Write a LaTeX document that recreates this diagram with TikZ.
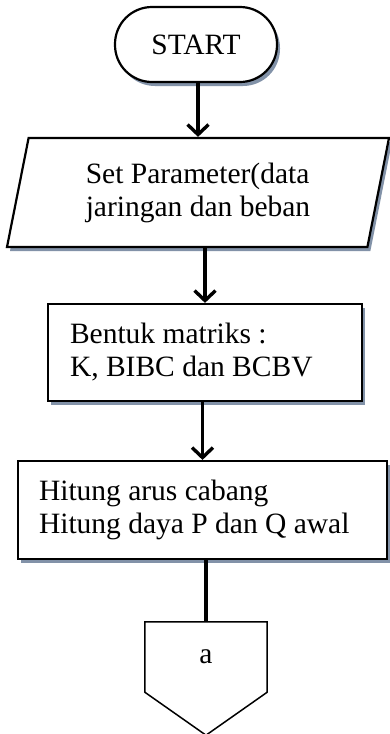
\documentclass[tikz,border=0pt]{standalone}
\usepackage{fontspec}
\setmainfont{Liberation Serif}
\usetikzlibrary{arrows.meta}
\usetikzlibrary{shapes.geometric}
\usetikzlibrary{shadows}
\definecolor{shadowblue}{RGB}{130,146,168}

\begin{document}
\begin{tikzpicture}[x=1pt, y=-1pt,
    font=\fontsize{29.5}{33}\selectfont,
    shade/.style={drop shadow={shadow xshift=3pt, shadow yshift=-4pt, fill=shadowblue, opacity=1}},
    terminal/.style={draw, line width=2.2pt, fill=white, rounded corners=37pt, minimum width=162pt, minimum height=75pt, shade},
    iobox/.style={draw, line width=2.2pt, fill=white, trapezium, trapezium left angle=72, trapezium right angle=108, trapezium stretches body, minimum width=382pt, minimum height=109pt, align=left, shade},
    procbox/.style={draw, line width=2.2pt, fill=white, align=flush left, inner xsep=22pt, shade},
    arrow/.style={line width=3.4pt, -{Straight Barb[length=10pt,width=21pt]}},
    ]
    % diagram alir: awal perhitungan aliran daya
    \useasboundingbox (0,0) rectangle (390,734);

    \node[terminal] (start) at (196, 44.5) {START};
    \node[iobox] (param) at (198, 192.5) {Set Parameter(data\\jaringan dan beban};
    \node[procbox, text width=270pt, minimum height=97pt] (matriks) at (205, 352.5) {Bentuk matriks :\\K, BIBC dan BCBV};
    \node[procbox, text width=327pt, inner xsep=21pt, minimum height=98pt] (hitung) at (202.5, 510) {Hitung arus cabang\\Hitung daya P dan Q awal};
    \node[minimum width=122pt, minimum height=70pt] (offpage) at (206, 657) {a};

    \draw[line width=1.5pt] (offpage.north west) -- (offpage.north east) -- (offpage.south east)
        -- ([yshift=-43pt]offpage.south) -- (offpage.south west) -- cycle;

    \draw[arrow] (start.south -| param.north) -- (param.north);
    \draw[arrow] (param.south -| matriks.north) -- (matriks.north);
    \draw[arrow] (matriks.south -| hitung.north) -- (hitung.north);
    \draw[line width=3.4pt] (hitung.south -| offpage.north) -- (offpage.north);
\end{tikzpicture}
\end{document}
